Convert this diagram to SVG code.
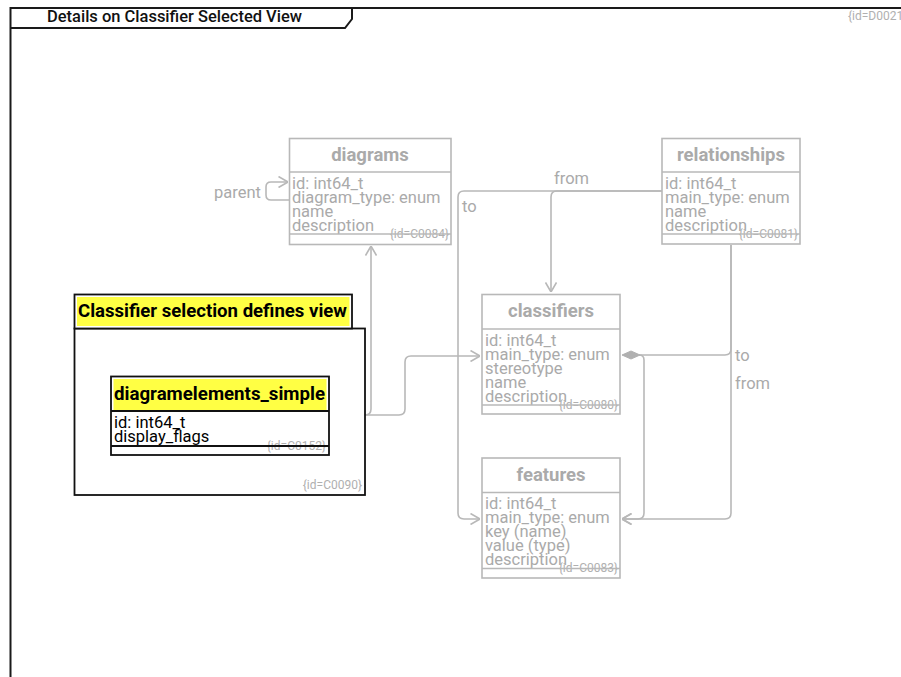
<svg xmlns="http://www.w3.org/2000/svg" width="901" height="677" viewBox="0 0 901 677">
  <style>
    text { font-family: Roboto, "Liberation Sans", sans-serif; }
    .frame { fill: none; stroke: #1a1a1a; stroke-width: 2; }
    .gbox { fill: #ffffff; stroke: #b8b8b8; stroke-width: 1.6; }
    .gline { stroke: #b8b8b8; stroke-width: 1.6; fill: none; }
    .gtitle { font-size: 18.5px; font-weight: bold; fill: #aaaaaa; text-anchor: middle; }
    .gattr { font-size: 16.5px; fill: #aaaaaa; }
    .gid { font-size: 12px; fill: #b0b0b0; text-anchor: end; }
    .bbox { fill: #ffffff; stroke: #111111; stroke-width: 1.8; }
    .bline { stroke: #111111; stroke-width: 1.8; fill: none; }
    .hl { fill: #ffff44; }
    .btitle { font-size: 18.5px; font-weight: bold; fill: #000000; }
    .battr { font-size: 16.5px; fill: #000000; }
    .conn { fill: none; stroke: #b8b8b8; stroke-width: 1.6; }
    .lbl { font-size: 16.5px; fill: #aaaaaa; }
  </style>
  <defs>
    <marker id="arrow" viewBox="0 0 10 12" refX="10" refY="6" markerWidth="10" markerHeight="12" markerUnits="userSpaceOnUse" orient="auto">
      <path d="M0.5,0.5 L10,6 L0.5,11.5" fill="none" stroke="#b8b8b8" stroke-width="1.6"/>
    </marker>
  </defs>

  <!-- diagram frame with title tab -->
  <g id="frame">
    <path class="frame" d="M10.5,677 V8 H901"/>
    <path class="frame" d="M10.5,8 H352 V19 L345,28 H10.5"/>
    <text x="47" y="22" font-size="16.5" font-weight="500" fill="#111111" textLength="255" lengthAdjust="spacingAndGlyphs">Details on Classifier Selected View</text>
    <text x="848" y="19.5" class="gid" style="text-anchor:start">{id=D0021}</text>
  </g>

  <!-- connectors -->
  <g id="connectors">
    <path class="conn" d="M289,200 H271 Q266,200 266,195 V187 Q266,182 271,182 H288" marker-end="url(#arrow)"/>
    <path class="conn" d="M662,191 H464 Q458,191 458,197 V513 Q458,519 464,519 H480" marker-end="url(#arrow)"/>
    <path class="conn" d="M662,191 H557 Q551,191 551,197 V292" marker-end="url(#arrow)"/>
    <path class="conn" d="M731,245 V349 Q731,355 725,355 H640"/>
    <path class="conn" d="M731,245 V513 Q731,519 725,519 H622" marker-end="url(#arrow)"/>
    <path class="conn" d="M639,355 Q644,355 644,360 V513 Q644,519 638,519 H622" marker-end="url(#arrow)"/>
    <polygon points="622,355 631,351 640,355 631,359" fill="#b0b0b0" stroke="#b0b0b0" stroke-width="1"/>
    <path class="conn" d="M329,415 H365 Q371,415 371,409 V246" marker-end="url(#arrow)"/>
    <path class="conn" d="M329,415 H399 Q405,415 405,409 V362 Q405,356 411,356 H480" marker-end="url(#arrow)"/>
    <text class="lbl" x="261" y="198" text-anchor="end">parent</text>
    <text class="lbl" x="462" y="212">to</text>
    <text class="lbl" x="554" y="184">from</text>
    <text class="lbl" x="735" y="361">to</text>
    <text class="lbl" x="735" y="389">from</text>
  </g>

  <!-- class: diagrams -->
  <g id="C0084">
    <rect class="gbox" x="289.5" y="138.5" width="161.5" height="106"/>
    <line class="gline" x1="289.5" y1="172" x2="451" y2="172"/>
    <text class="gtitle" x="370" y="161">diagrams</text>
    <text class="gattr" x="292" y="189">id: int64_t</text>
    <text class="gattr" x="292" y="203">diagram_type: enum</text>
    <text class="gattr" x="292" y="217">name</text>
    <text class="gattr" x="292" y="231">description</text>
    <text class="gid" x="449" y="238">{id=C0084}</text>
    <line class="gline" x1="289.5" y1="234" x2="451" y2="234"/>
  </g>

  <!-- class: relationships -->
  <g id="C0081">
    <rect class="gbox" x="662" y="138.5" width="138" height="105.5"/>
    <line class="gline" x1="662" y1="172" x2="800" y2="172"/>
    <text class="gtitle" x="731" y="161">relationships</text>
    <text class="gattr" x="665" y="189">id: int64_t</text>
    <text class="gattr" x="665" y="203">main_type: enum</text>
    <text class="gattr" x="665" y="217">name</text>
    <text class="gattr" x="665" y="231">description</text>
    <text class="gid" x="798" y="238">{id=C0081}</text>
    <line class="gline" x1="662" y1="234" x2="800" y2="234"/>
  </g>

  <!-- class: classifiers -->
  <g id="C0080">
    <rect class="gbox" x="482" y="294.5" width="138" height="119.5"/>
    <line class="gline" x1="482" y1="329" x2="620" y2="329"/>
    <text class="gtitle" x="551" y="317">classifiers</text>
    <text class="gattr" x="485" y="346">id: int64_t</text>
    <text class="gattr" x="485" y="360">main_type: enum</text>
    <text class="gattr" x="485" y="374">stereotype</text>
    <text class="gattr" x="485" y="388">name</text>
    <text class="gattr" x="485" y="402">description</text>
    <text class="gid" x="618" y="409">{id=C0080}</text>
    <line class="gline" x1="482" y1="405" x2="620" y2="405"/>
  </g>

  <!-- class: features -->
  <g id="C0083">
    <rect class="gbox" x="482" y="458" width="138" height="120"/>
    <line class="gline" x1="482" y1="492.5" x2="620" y2="492.5"/>
    <text class="gtitle" x="551" y="481">features</text>
    <text class="gattr" x="485" y="509">id: int64_t</text>
    <text class="gattr" x="485" y="523">main_type: enum</text>
    <text class="gattr" x="485" y="537">key (name)</text>
    <text class="gattr" x="485" y="551">value (type)</text>
    <text class="gattr" x="485" y="565">description</text>
    <text class="gid" x="618" y="572">{id=C0083}</text>
    <line class="gline" x1="482" y1="568.5" x2="620" y2="568.5"/>
  </g>

  <!-- package: classifier selection -->
  <g id="C0090">
    <rect class="bbox" x="74.5" y="328.5" width="290.5" height="166.5"/>
    <rect class="bbox" x="74.5" y="294.5" width="277.5" height="34"/>
    <rect class="hl" x="77" y="297" width="272.5" height="29"/>
    <text class="btitle" x="78" y="317" textLength="269" lengthAdjust="spacingAndGlyphs">Classifier selection defines view</text>
    <text class="gid" x="362" y="489">{id=C0090}</text>
  </g>

  <!-- class: diagramelements_simple -->
  <g id="C0152">
    <rect class="bbox" x="111" y="376.5" width="218" height="78.5"/>
    <rect class="hl" x="113.5" y="379" width="213" height="31"/>
    <line class="bline" x1="111" y1="411" x2="329" y2="411"/>
    <text class="btitle" x="114" y="400" textLength="211" lengthAdjust="spacingAndGlyphs">diagramelements_simple</text>
    <text class="battr" x="114" y="428">id: int64_t</text>
    <text class="battr" x="114" y="442">display_flags</text>
    <text class="gid" x="326" y="450">{id=C0152}</text>
    <line class="bline" x1="111" y1="446" x2="329" y2="446"/>
  </g>
</svg>
